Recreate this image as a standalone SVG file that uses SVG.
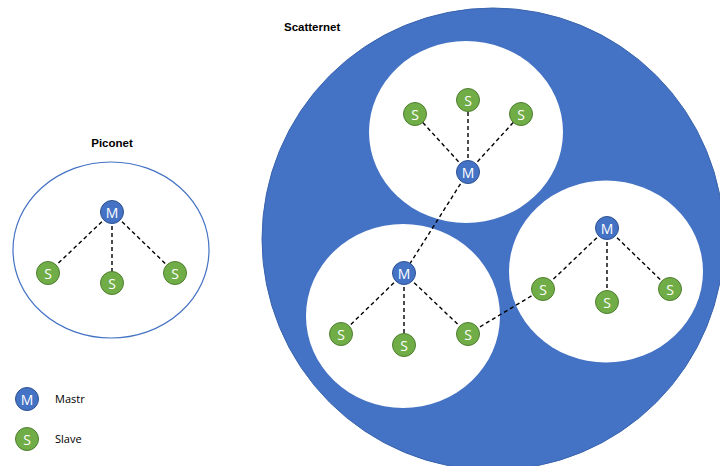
<svg xmlns="http://www.w3.org/2000/svg" width="720" height="466" viewBox="0 0 720 466">
<style>
.m{fill:#4472C4;stroke:#2F528F;stroke-width:1}
.s{fill:#70AD47;stroke:#507E32;stroke-width:1}
.nt{font-family:"Open Sans","Liberation Sans",sans-serif;font-size:14px;fill:#fff;text-anchor:middle;dominant-baseline:central}
.lk{stroke:#000;stroke-width:1.4;stroke-dasharray:4 3;fill:none}
.title{font-family:"Liberation Sans",Arial,sans-serif;font-weight:bold;font-size:11.5px;fill:#000}
.leg{font-family:"Open Sans","Liberation Sans",sans-serif;font-size:11px;fill:#000}
</style>
<rect width="720" height="466" fill="#fff"/>
<g id="scatternet-area">
<circle cx="493" cy="239" r="231" fill="#4472C4" stroke="#3A64AE" stroke-width="1"/>
<ellipse cx="466" cy="132" rx="97" ry="91" fill="#fff"/>
<ellipse cx="403" cy="316" rx="97" ry="92" fill="#fff"/>
<ellipse cx="606" cy="271.5" rx="97" ry="91" fill="#fff"/>
</g>
<g id="piconet-area">
<ellipse cx="111" cy="250" rx="98" ry="88" fill="#fff" stroke="#4472C4" stroke-width="1.2"/>
</g>
<text class="title" x="112" y="147" text-anchor="middle">Piconet</text>
<text class="title" x="284" y="31">Scatternet</text>
<g id="connectors">
<line class="lk" x1="112" y1="212" x2="48" y2="273"/>
<line class="lk" x1="112" y1="212" x2="112" y2="283"/>
<line class="lk" x1="112" y1="212" x2="175" y2="273"/>
<line class="lk" x1="468" y1="172" x2="415" y2="114"/>
<line class="lk" x1="468" y1="172" x2="468" y2="100"/>
<line class="lk" x1="468" y1="172" x2="521" y2="114"/>
<line class="lk" x1="468" y1="172" x2="404" y2="273"/>
<line class="lk" x1="404" y1="273" x2="341" y2="334"/>
<line class="lk" x1="404" y1="273" x2="404" y2="345"/>
<line class="lk" x1="404" y1="273" x2="468" y2="334"/>
<line class="lk" x1="468" y1="334" x2="543" y2="289"/>
<line class="lk" x1="607" y1="228" x2="543" y2="289"/>
<line class="lk" x1="607" y1="228" x2="607" y2="302"/>
<line class="lk" x1="607" y1="228" x2="670" y2="289"/>
</g>
<g id="pico-m"><circle class="m" cx="112" cy="212" r="11.5"/><text class="nt" x="112" y="212">M</text></g>
<g id="pico-s1"><circle class="s" cx="48" cy="273" r="11.5"/><text class="nt" x="48" y="273">S</text></g>
<g id="pico-s2"><circle class="s" cx="112" cy="283" r="11.5"/><text class="nt" x="112" y="283">S</text></g>
<g id="pico-s3"><circle class="s" cx="175" cy="273" r="11.5"/><text class="nt" x="175" y="273">S</text></g>
<g id="top-m"><circle class="m" cx="468" cy="172" r="11.5"/><text class="nt" x="468" y="172">M</text></g>
<g id="top-s1"><circle class="s" cx="415" cy="114" r="11.5"/><text class="nt" x="415" y="114">S</text></g>
<g id="top-s2"><circle class="s" cx="468" cy="100" r="11.5"/><text class="nt" x="468" y="100">S</text></g>
<g id="top-s3"><circle class="s" cx="521" cy="114" r="11.5"/><text class="nt" x="521" y="114">S</text></g>
<g id="bl-m"><circle class="m" cx="404" cy="273" r="11.5"/><text class="nt" x="404" y="273">M</text></g>
<g id="bl-s1"><circle class="s" cx="341" cy="334" r="11.5"/><text class="nt" x="341" y="334">S</text></g>
<g id="bl-s2"><circle class="s" cx="404" cy="345" r="11.5"/><text class="nt" x="404" y="345">S</text></g>
<g id="bl-s3"><circle class="s" cx="468" cy="334" r="11.5"/><text class="nt" x="468" y="334">S</text></g>
<g id="r-m"><circle class="m" cx="607" cy="228" r="11.5"/><text class="nt" x="607" y="228">M</text></g>
<g id="r-s1"><circle class="s" cx="543" cy="289" r="11.5"/><text class="nt" x="543" y="289">S</text></g>
<g id="r-s2"><circle class="s" cx="607" cy="302" r="11.5"/><text class="nt" x="607" y="302">S</text></g>
<g id="r-s3"><circle class="s" cx="670" cy="289" r="11.5"/><text class="nt" x="670" y="289">S</text></g>
<g id="legend-m"><circle class="m" cx="27" cy="399" r="11.5"/><text class="nt" x="27" y="399">M</text><text class="leg" x="55" y="403">Mastr</text></g>
<g id="legend-s"><circle class="s" cx="27" cy="439" r="11.5"/><text class="nt" x="27" y="439">S</text><text class="leg" x="55" y="443">Slave</text></g>
</svg>
